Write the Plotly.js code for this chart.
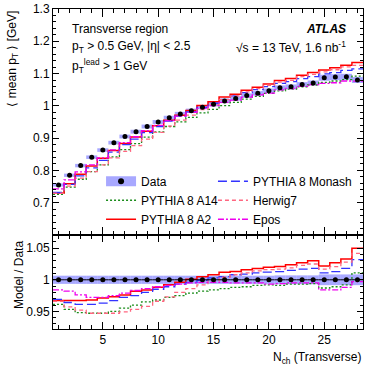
<!DOCTYPE html>
<html>
<head>
<meta charset="utf-8">
<script src="https://cdn.plot.ly/plotly-3.0.1.min.js"></script>
<style>
html, body { margin: 0; padding: 0; background: #fff; }
#plot { width: 374px; height: 374px; }
</style>
</head>
<body>
<div id="plot"></div>
<script>
// N_ch bins (transverse region)
var nch = [1,2,3,4,5,6,7,8,9,10,11,12,13,14,15,16,17,18,19,20,21,22,23,24,25,26,27,28];

// measured <mean pT> [GeV] and its relative uncertainty
var dataMean = [0.755,0.785,0.815,0.841,0.863,0.886,0.905,0.920,0.936,0.950,0.963,0.975,0.985,0.996,
                1.005,1.015,1.023,1.032,1.039,1.047,1.056,1.059,1.066,1.071,1.087,1.089,1.090,1.080];
var dataRelErr = [0.0065,0.0065,0.0065,0.0065,0.0065,0.0065,0.0065,0.0065,0.0065,0.0065,0.0065,0.0065,0.0065,0.0065,
                  0.0065,0.0065,0.0065,0.0065,0.0065,0.0065,0.007,0.007,0.007,0.007,0.0085,0.0085,0.0085,0.0085];

// Model / Data ratios
var ratioA14 = [0.961,0.953,0.948,0.947,0.947,0.950,0.955,0.960,0.965,0.968,0.972,0.975,0.979,0.982,
                0.984,0.986,0.988,0.989,0.991,0.992,0.991,0.993,0.993,0.994,0.987,0.989,0.992,1.011];
var ratioA2 = [0.967,0.967,0.967,0.968,0.971,0.973,0.976,0.982,0.984,0.988,0.992,0.996,1.001,1.005,
               1.008,1.012,1.013,1.016,1.018,1.020,1.021,1.024,1.027,1.030,1.022,1.027,1.033,1.050];
var ratioMonash = [0.969,0.964,0.961,0.961,0.963,0.967,0.972,0.975,0.980,0.985,0.989,0.993,0.996,0.999,
                   1.003,1.005,1.008,1.009,1.011,1.012,1.013,1.015,1.017,1.018,1.011,1.013,1.018,1.032];
var ratioHerwig = [0.966,0.957,0.952,0.947,0.947,0.947,0.949,0.953,0.958,0.966,0.973,0.980,0.986,0.992,
                   0.998,1.004,1.008,1.011,1.014,1.016,1.017,1.019,1.023,1.025,1.017,1.021,1.028,1.042];
var ratioEpos = [0.984,0.982,0.976,0.972,0.972,0.975,0.979,0.983,0.986,0.989,0.991,0.993,0.995,0.996,
                 0.996,0.996,0.995,0.995,0.995,0.993,0.994,0.995,0.995,0.995,0.984,0.984,0.988,0.997];

// axis ticks
var xTicks = [5,10,15,20,25];
var yTicksMain = [0.7,0.8,0.9,1,1.1,1.2,1.3];
var yTicksRatio = [0.95,1,1.05];

var bandColor = 'rgba(110,110,255,0.6)';
var font = 'Liberation Sans, Arial, sans-serif';

function binEdges(bins) {
  var e = bins.map(function(b) { return b - 0.5; });
  e.push(bins[bins.length - 1] + 0.5);
  return e;
}
function stepVals(vals) {
  return vals.concat([vals[vals.length - 1]]);
}
function times(a, b) {
  return a.map(function(v, i) { return v * b[i]; });
}

var edges = binEdges(nch);

var models = [
  {name: 'PYTHIA 8 A14',    ratio: ratioA14,    color: '#1a8c1a', dash: '2px,2px',          width: 1.3, legend: 'legend'},
  {name: 'PYTHIA 8 A2',     ratio: ratioA2,     color: '#ff0000', dash: 'solid',            width: 1.5, legend: 'legend'},
  {name: 'PYTHIA 8 Monash', ratio: ratioMonash, color: '#3333ff', dash: '9px,4px',          width: 1.3, legend: 'legend2'},
  {name: 'Herwig7',         ratio: ratioHerwig, color: '#ff6680', dash: '4px,3px',          width: 1.3, legend: 'legend2'},
  {name: 'Epos',            ratio: ratioEpos,   color: '#ee00ee', dash: '6px,2px,2px,2px',  width: 1.3, legend: 'legend2'}
];

var traces = [];

// legend entry for the data (band + marker)
traces.push({
  x: [null], y: [null], type: 'scatter', mode: 'lines+markers', name: 'Data',
  line: {color: bandColor, width: 10},
  marker: {color: 'black', size: 6},
  xaxis: 'x2', yaxis: 'y2', legend: 'legend', hoverinfo: 'skip'
});

// uncertainty bands
traces.push({
  type: 'bar', x: nch, width: 1,
  base: dataMean.map(function(v, i) { return v * (1 - dataRelErr[i]); }),
  y: dataMean.map(function(v, i) { return 2 * v * dataRelErr[i]; }),
  marker: {color: bandColor, line: {width: 0}},
  xaxis: 'x2', yaxis: 'y2', showlegend: false, hoverinfo: 'skip'
});
traces.push({
  type: 'bar', x: nch, width: 1,
  base: dataRelErr.map(function(e) { return 1 - e; }),
  y: dataRelErr.map(function(e) { return 2 * e; }),
  marker: {color: bandColor, line: {width: 0}},
  xaxis: 'x', yaxis: 'y', showlegend: false, hoverinfo: 'skip'
});

// models
models.forEach(function(m) {
  traces.push({
    type: 'scatter', mode: 'lines', name: m.name,
    x: edges, y: stepVals(times(dataMean, m.ratio)),
    line: {color: m.color, width: m.width, dash: m.dash, shape: 'hv'},
    xaxis: 'x2', yaxis: 'y2', legend: m.legend
  });
  traces.push({
    type: 'scatter', mode: 'lines', name: m.name,
    x: edges, y: stepVals(m.ratio),
    line: {color: m.color, width: m.width, dash: m.dash, shape: 'hv'},
    xaxis: 'x', yaxis: 'y', showlegend: false
  });
});

// data points
traces.push({
  type: 'scatter', mode: 'markers', x: nch, y: dataMean,
  marker: {color: 'black', size: 5},
  xaxis: 'x2', yaxis: 'y2', showlegend: false
});
traces.push({
  type: 'scatter', mode: 'markers', x: nch, y: dataMean.map(function(v) { return v / v; }),
  marker: {color: 'black', size: 5},
  error_x: {type: 'constant', value: 0.5, width: 0, color: 'black', thickness: 1},
  xaxis: 'x', yaxis: 'y', showlegend: false
});

var axisCommon = {
  showline: true, linecolor: 'black', linewidth: 1, mirror: 'ticks',
  showgrid: false, zeroline: false, ticks: 'inside', tickcolor: 'black',
  tickfont: {family: font, size: 12, color: 'black'}
};

function ax(extra) {
  var o = {};
  for (var k in axisCommon) o[k] = axisCommon[k];
  for (var k2 in extra) o[k2] = extra[k2];
  return o;
}

var splitFrac = 94 / 320;

var layout = {
  width: 374, height: 374,
  margin: {l: 53, r: 11, t: 9, b: 45},
  paper_bgcolor: 'white', plot_bgcolor: 'white',
  font: {family: font, size: 12, color: 'black'},
  barmode: 'overlay',
  xaxis: ax({
    domain: [0, 1], range: [0.5, 28.5], anchor: 'y',
    tickmode: 'array', tickvals: xTicks, ticklen: 7,
    minor: {tickmode: 'linear', tick0: 0, dtick: 1, ticks: 'inside', ticklen: 4, tickcolor: 'black', showgrid: false}
  }),
  xaxis2: ax({
    matches: 'x', range: [0.5, 28.5], anchor: 'y2', showticklabels: false,
    tickmode: 'array', tickvals: xTicks, ticklen: 8,
    minor: {tickmode: 'linear', tick0: 0, dtick: 1, ticks: 'inside', ticklen: 4, tickcolor: 'black', showgrid: false}
  }),
  yaxis: ax({
    domain: [0, splitFrac], range: [0.922, 1.071], anchor: 'x',
    tickmode: 'array', tickvals: yTicksRatio, ticklen: 6,
    minor: {tickmode: 'linear', tick0: 0, dtick: 0.01, ticks: 'inside', ticklen: 3, tickcolor: 'black', showgrid: false}
  }),
  yaxis2: ax({
    domain: [splitFrac, 1], range: [0.6, 1.3], anchor: 'x2',
    tickmode: 'array', tickvals: yTicksMain, ticklen: 6,
    minor: {tickmode: 'linear', tick0: 0, dtick: 0.02, ticks: 'inside', ticklen: 3, tickcolor: 'black', showgrid: false}
  }),
  legend: {
    x: 0.155, y: 0.507, xanchor: 'left', yanchor: 'top',
    bgcolor: 'rgba(0,0,0,0)', font: {family: font, size: 12}, itemwidth: 30, tracegroupgap: 0
  },
  legend2: {
    x: 0.516, y: 0.507, xanchor: 'left', yanchor: 'top',
    bgcolor: 'rgba(0,0,0,0)', font: {family: font, size: 12}, itemwidth: 30, tracegroupgap: 0
  },
  annotations: [
    {text: 'Transverse region', xref: 'paper', yref: 'paper', x: 0.0548, y: 0.9375, xanchor: 'left', yanchor: 'middle', showarrow: false, font: {size: 12}},
    {text: 'p<sub>T</sub> > 0.5 GeV, |η| < 2.5', xref: 'paper', yref: 'paper', x: 0.0548, y: 0.881, xanchor: 'left', yanchor: 'middle', showarrow: false, font: {size: 12}},
    {text: 'p<sub>T</sub><sup>lead</sup> > 1 GeV', xref: 'paper', yref: 'paper', x: 0.0548, y: 0.822, xanchor: 'left', yanchor: 'middle', showarrow: false, font: {size: 12}},
    {text: '<b><i>ATLAS</i></b>', xref: 'paper', yref: 'paper', x: 0.9516, y: 0.9375, xanchor: 'right', yanchor: 'middle', showarrow: false, font: {size: 12}},
    {text: '√s = 13 TeV, 1.6 nb<sup>-1</sup>', xref: 'paper', yref: 'paper', x: 0.9516, y: 0.881, xanchor: 'right', yanchor: 'middle', showarrow: false, font: {size: 12}},
    {text: '⟨ mean p<sub>T</sub> ⟩ [GeV]', xref: 'paper', yref: 'paper', x: 0, xshift: -40.5, y: 1, xanchor: 'center', yanchor: 'top', textangle: -90, showarrow: false, font: {size: 12}},
    {text: 'Model / Data', xref: 'paper', yref: 'paper', x: 0, xshift: -34, y: 0.169, xanchor: 'center', yanchor: 'middle', textangle: -90, showarrow: false, font: {size: 12}},
    {text: 'N<sub>ch</sub> (Transverse)', xref: 'paper', yref: 'paper', x: 1, y: -0.0906, xanchor: 'right', yanchor: 'middle', showarrow: false, font: {size: 12}}
  ]
};

Plotly.newPlot('plot', traces, layout, {displayModeBar: false, staticPlot: true});
</script>
</body>
</html>
